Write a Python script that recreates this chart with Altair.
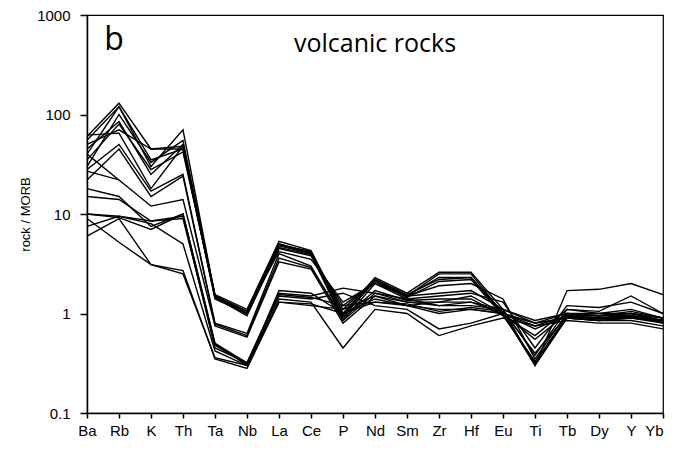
import altair as alt
import pandas as pd

elements = ["Ba", "Rb", "K", "Th", "Ta", "Nb", "La", "Ce", "P", "Nd",
            "Sm", "Zr", "Hf", "Eu", "Ti", "Tb", "Dy", "Y", "Yb"]

# rock / MORB values, one list per sample (order as in `elements`)
rock_01 = [60, 130, 45, 48, 1.55, 1.10, 5.3, 4.3, 1.00, 2.3, 1.60, 2.6, 2.6, 1.10, 0.30, 1.70, 1.75, 2.00, 1.55]
rock_02 = [55, 120, 30, 70, 1.50, 1.05, 5.0, 4.1, 0.90, 2.2, 1.50, 2.5, 2.5, 1.00, 0.32, 0.95, 0.90, 0.95, 0.85]
rock_03 = [45, 85, 25, 50, 1.50, 1.00, 5.0, 4.0, 1.10, 2.2, 1.50, 2.3, 2.3, 1.00, 0.30, 0.90, 0.85, 0.90, 0.85]
rock_04 = [40, 120, 35, 45, 1.45, 1.00, 4.8, 4.0, 0.95, 2.1, 1.45, 2.1, 2.2, 0.95, 0.33, 0.90, 0.90, 0.95, 0.80]
rock_05 = [50, 70, 45, 45, 1.45, 0.95, 4.6, 3.9, 0.85, 2.0, 1.50, 1.9, 2.0, 1.40, 0.35, 1.00, 0.95, 1.05, 0.90]
rock_06 = [62, 65, 18, 48, 1.40, 1.00, 4.5, 3.8, 1.20, 2.1, 1.50, 1.6, 1.7, 1.10, 0.38, 1.10, 1.05, 1.50, 1.00]
rock_07 = [35, 80, 28, 42, 1.50, 1.05, 4.2, 3.5, 1.30, 2.0, 1.40, 1.5, 1.6, 1.30, 0.45, 1.20, 1.15, 1.30, 1.00]
rock_08 = [30, 100, 33, 55, 1.50, 1.00, 4.9, 4.2, 1.00, 2.2, 1.55, 2.2, 2.3, 1.00, 0.31, 0.92, 0.88, 0.92, 0.82]
rock_09 = [28, 50, 17, 25, 0.80, 0.63, 4.0, 3.0, 0.85, 1.6, 1.30, 1.3, 1.5, 1.00, 0.55, 1.00, 0.95, 1.00, 0.85]
rock_10 = [22, 45, 15, 24, 0.78, 0.60, 3.6, 2.9, 0.90, 1.7, 1.35, 1.4, 1.4, 0.95, 0.60, 1.10, 1.00, 1.10, 0.90]
rock_11 = [40, 22, 12, 14, 0.75, 0.58, 3.3, 2.8, 0.80, 1.5, 1.20, 1.3, 1.3, 1.00, 0.70, 0.95, 0.95, 0.95, 0.85]
rock_12 = [18, 15, 7.5, 10, 0.50, 0.30, 1.7, 1.6, 1.00, 1.3, 1.20, 1.0, 1.1, 1.00, 0.80, 1.00, 0.95, 1.00, 0.90]
rock_13 = [15, 14, 8.5, 9.5, 0.45, 0.32, 1.5, 1.4, 1.60, 1.2, 1.10, 0.7, 0.8, 1.00, 0.80, 0.90, 0.85, 0.85, 0.75]
rock_14 = [10, 9.5, 8.0, 5.0, 0.42, 0.30, 1.4, 1.3, 0.45, 1.1, 1.00, 0.6, 0.75, 0.90, 0.75, 0.85, 0.80, 0.80, 0.70]
rock_15 = [9, 5.2, 3.1, 2.7, 0.35, 0.28, 1.3, 1.2, 1.10, 1.5, 1.30, 1.2, 1.2, 1.10, 0.80, 0.90, 0.85, 0.90, 0.80]
rock_16 = [6, 9.0, 3.1, 2.5, 0.36, 0.30, 1.3, 1.25, 1.00, 1.4, 1.20, 1.1, 1.1, 1.00, 0.75, 0.95, 0.90, 0.90, 0.85]
rock_17 = [10, 9.2, 7.0, 10, 0.50, 0.32, 1.6, 1.5, 1.80, 1.6, 1.40, 1.2, 1.3, 1.10, 0.85, 1.00, 1.00, 1.00, 0.90]
rock_18 = [7.5, 9.5, 8.5, 9.0, 0.48, 0.31, 1.55, 1.45, 1.20, 1.3, 1.25, 1.05, 1.15, 1.05, 0.40, 0.95, 0.90, 0.95, 0.85]
rock_19 = [27, 22, None, None, None, None, None, None, None, None, None, None, None, None, None, None, None, None, None]

samples = {
    "01": rock_01, "02": rock_02, "03": rock_03, "04": rock_04, "05": rock_05,
    "06": rock_06, "07": rock_07, "08": rock_08, "09": rock_09, "10": rock_10,
    "11": rock_11, "12": rock_12, "13": rock_13, "14": rock_14, "15": rock_15,
    "16": rock_16, "17": rock_17, "18": rock_18, "19": rock_19,
}

y_ticks = [0.1, 1, 10, 100, 1000]
panel_letter = "b"
panel_title = "volcanic rocks"

rows = []
for name, vals in samples.items():
    for i, (el, v) in enumerate(zip(elements, vals)):
        if v is not None:
            rows.append({"sample": name, "element": el, "order": i, "value": v})
df = pd.DataFrame(rows)

x_enc = alt.X("element:N", sort=elements,
              scale=alt.Scale(domain=elements, type="point", padding=0),
              axis=alt.Axis(title=None, labelAngle=0, labelFontSize=15,
                            labelFont="Liberation Sans", labelColor="black",
                            labelAlign={"condition": {"test": "datum.value === 'Yb'",
                                                      "value": "right"},
                                        "value": "center"},
                            tickColor="black", tickSize=5, tickWidth=1.5,
                            domainColor="black", domainWidth=1.5,
                            labelPadding=5, grid=False))
y_enc = alt.Y("value:Q",
              scale=alt.Scale(type="log", domain=[0.1, 1000]),
              axis=alt.Axis(title="rock / MORB", values=y_ticks, format="~g",
                            labelFontSize=15, labelFont="Liberation Sans",
                            labelColor="black", tickColor="black", tickSize=7,
                            tickWidth=1.5, domainColor="black", domainWidth=1.5,
                            titleFont="Liberation Sans", titleFontSize=13,
                            titleFontWeight="normal", titleColor="black",
                            titleX=-55, labelPadding=10, grid=False))

lines = alt.Chart(df).mark_line(color="black", strokeWidth=1.4).encode(
    x=x_enc, y=y_enc, detail="sample:N", order="order:Q"
)

ann_df = pd.DataFrame([{"element": "Rb", "value": 450, "label": panel_letter}])
ann2_df = pd.DataFrame([{"element": "Nd", "value": 420, "label": panel_title}])

letter = alt.Chart(ann_df).mark_text(font="Open Sans", fontSize=32, color="black",
                                     baseline="alphabetic", align="center", dx=-5).encode(
    x=alt.X("element:N", sort=elements), y="value:Q", text="label:N")
title = alt.Chart(ann2_df).mark_text(font="Open Sans", fontSize=25, color="black",
                                     baseline="alphabetic", align="center").encode(
    x=alt.X("element:N", sort=elements), y="value:Q", text="label:N")

chart = alt.layer(lines, letter, title).properties(
    width=576, height=398,
    autosize=alt.AutoSizeParams(type="none"),
    padding={"left": 79, "top": 7, "right": 6, "bottom": 28},
).configure_view(stroke="black", strokeWidth=1.2)

chart.save("out.html", embed_options={"renderer": "svg", "actions": False})
